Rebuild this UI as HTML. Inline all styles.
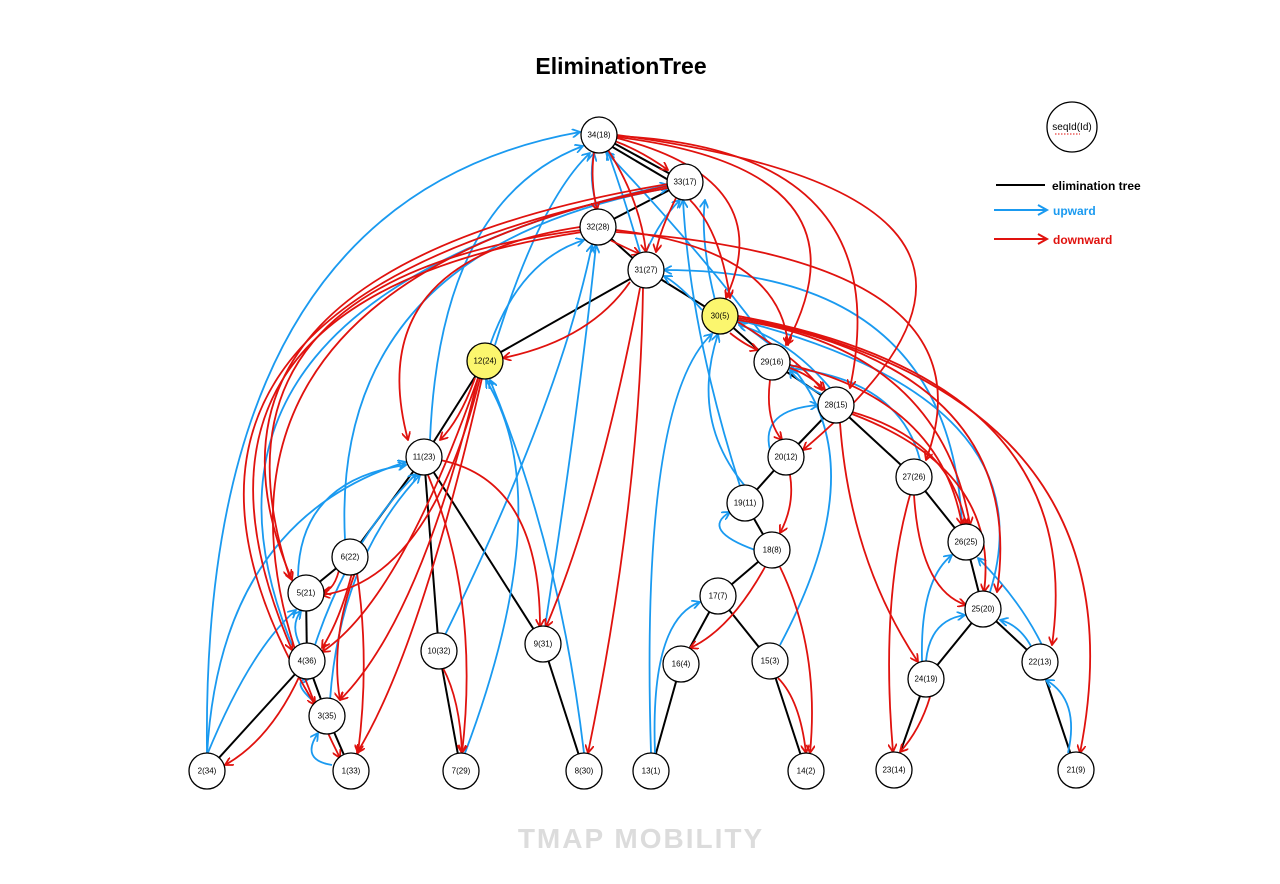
<!DOCTYPE html>
<html><head><meta charset="utf-8"><style>
html,body{margin:0;padding:0;background:#fff;width:1280px;height:884px;overflow:hidden}
svg{display:block}
text{font-family:"Liberation Sans",Arial,sans-serif}
.n circle{fill:#fff;stroke:#000;stroke-width:1.3}
.n text{font-size:8px;text-anchor:middle;dominant-baseline:central}
.t line{stroke:#000;stroke-width:2}
.b path{stroke:#1a9af0;stroke-width:1.8;fill:none;marker-end:url(#ab)}
.r path{stroke:#e0120e;stroke-width:1.8;fill:none;marker-end:url(#ar)}
</style></head><body>
<svg width="1280" height="884" viewBox="0 0 1280 884">
<defs>
<marker id="ab" viewBox="0 0 10 10" refX="9" refY="5" markerWidth="9" markerHeight="9" orient="auto" markerUnits="userSpaceOnUse"><path d="M0,0 L9,5 L0,10" fill="none" stroke="#1a9af0" stroke-width="2"/></marker>
<marker id="ar" viewBox="0 0 10 10" refX="9" refY="5" markerWidth="9" markerHeight="9" orient="auto" markerUnits="userSpaceOnUse"><path d="M0,0 L9,5 L0,10" fill="none" stroke="#e0120e" stroke-width="2"/></marker>
</defs>
<text x="621" y="74" font-size="23" font-weight="bold" text-anchor="middle">EliminationTree</text>

<g class="t">
<line x1="599" y1="135" x2="685" y2="182"/><line x1="604" y1="142" x2="682" y2="188"/>
<line x1="685" y1="182" x2="598" y2="227"/><line x1="598" y1="227" x2="646" y2="270"/>
<line x1="646" y1="270" x2="720" y2="316"/><line x1="646" y1="270" x2="485" y2="361"/>
<line x1="720" y1="316" x2="772" y2="362"/><line x1="772" y1="362" x2="836" y2="405"/>
<line x1="836" y1="405" x2="786" y2="457"/><line x1="836" y1="405" x2="914" y2="477"/>
<line x1="786" y1="457" x2="745" y2="503"/><line x1="745" y1="503" x2="772" y2="550"/>
<line x1="772" y1="550" x2="718" y2="596"/><line x1="718" y1="596" x2="681" y2="664"/>
<line x1="718" y1="596" x2="770" y2="661"/><line x1="681" y1="664" x2="651" y2="771"/>
<line x1="770" y1="661" x2="806" y2="771"/><line x1="914" y1="477" x2="966" y2="542"/>
<line x1="966" y1="542" x2="983" y2="609"/><line x1="983" y1="609" x2="926" y2="679"/>
<line x1="983" y1="609" x2="1040" y2="662"/><line x1="926" y1="679" x2="894" y2="770"/>
<line x1="1040" y1="662" x2="1076" y2="770"/><line x1="485" y1="361" x2="424" y2="457"/>
<line x1="424" y1="457" x2="350" y2="557"/><line x1="424" y1="457" x2="439" y2="651"/>
<line x1="424" y1="457" x2="543" y2="644"/><line x1="350" y1="557" x2="306" y2="593"/>
<line x1="306" y1="593" x2="307" y2="661"/><line x1="307" y1="661" x2="327" y2="716"/>
<line x1="307" y1="661" x2="207" y2="771"/><line x1="327" y1="716" x2="351" y2="771"/>
<line x1="439" y1="651" x2="461" y2="771"/><line x1="543" y1="644" x2="584" y2="771"/>
</g>

<g class="b">
<path d="M207,753 Q200,200 580,132"/>
<path d="M292,645 Q150,300 668,185"/>
<path d="M345,540 Q330,250 668,188"/>
<path d="M430,440 Q440,200 583,146"/>
<path d="M490,345 Q520,260 584,240"/>
<path d="M495,345 Q540,200 590,153"/>
<path d="M445,635 Q560,400 592,245"/>
<path d="M465,753 Q560,500 486,380"/>
<path d="M584,753 Q560,550 490,380"/>
<path d="M545,627 Q580,400 596,245"/>
<path d="M651,753 Q640,400 712,334"/>
<path d="M655,753 Q650,620 700,602"/>
<path d="M745,486 Q690,420 718,334"/>
<path d="M740,486 Q690,330 683,200"/>
<path d="M755,550 Q700,530 730,512"/>
<path d="M780,645 Q900,420 738,322"/>
<path d="M770,450 Q760,410 818,405"/>
<path d="M826,396 Q800,385 790,370"/>
<path d="M962,525 Q950,270 664,270"/>
<path d="M990,592 Q1050,400 738,320"/>
<path d="M926,661 Q930,620 965,615"/>
<path d="M922,661 Q920,580 952,555"/>
<path d="M1032,648 Q1020,625 1000,620"/>
<path d="M1042,645 Q1020,600 978,558"/>
<path d="M1068,753 Q1080,700 1046,680"/>
<path d="M920,460 Q900,380 790,368"/>
<path d="M770,345 Q700,250 606,152"/>
<path d="M715,300 Q700,240 705,200"/>
<path d="M702,310 Q680,285 664,276"/>
<path d="M830,388 Q790,340 739,325"/>
<path d="M298,576 Q300,480 406,465"/>
<path d="M315,645 Q350,540 416,474"/>
<path d="M330,700 Q340,560 420,475"/>
<path d="M207,755 Q220,520 406,462"/>
<path d="M207,755 Q250,650 296,610"/>
<path d="M300,645 Q290,625 301,611"/>
<path d="M332,765 Q300,760 318,733"/>
<path d="M312,700 Q290,680 310,678"/>
<path d="M646,252 Q660,220 680,200"/>
<path d="M598,210 Q588,180 594,153"/>
<path d="M640,252 Q625,200 608,152"/>
</g>

<g class="r">
<path d="M582,230 Q190,280 290,578"/>
<path d="M582,232 Q140,300 292,650"/>
<path d="M668,188 Q70,300 315,705"/>
<path d="M668,186 Q110,300 340,758"/>
<path d="M668,184 Q160,270 292,580"/>
<path d="M580,227 Q360,260 408,440"/>
<path d="M480,378 Q430,580 322,595"/>
<path d="M478,378 Q400,600 322,652"/>
<path d="M478,378 Q420,620 340,700"/>
<path d="M482,378 Q420,650 357,753"/>
<path d="M475,378 Q460,420 440,440"/>
<path d="M355,573 Q330,640 340,700"/>
<path d="M357,573 Q370,660 358,753"/>
<path d="M340,566 Q335,590 323,592"/>
<path d="M352,573 Q340,620 322,648"/>
<path d="M300,675 Q270,740 225,765"/>
<path d="M440,460 Q540,480 540,627"/>
<path d="M428,475 Q480,600 462,753"/>
<path d="M443,668 Q460,700 462,753"/>
<path d="M640,288 Q600,500 546,627"/>
<path d="M643,288 Q640,500 588,753"/>
<path d="M630,282 Q590,340 503,358"/>
<path d="M608,150 Q640,200 646,252"/>
<path d="M612,140 Q640,150 668,170"/>
<path d="M594,152 Q590,180 597,210"/>
<path d="M617,138 Q780,180 726,298"/>
<path d="M617,137 Q880,170 786,345"/>
<path d="M617,136 Q900,150 850,388"/>
<path d="M617,135 Q1100,200 803,450"/>
<path d="M676,198 Q660,230 656,252"/>
<path d="M690,200 Q720,230 730,298"/>
<path d="M616,230 Q780,250 788,345"/>
<path d="M616,232 Q1000,260 926,460"/>
<path d="M610,240 Q630,250 640,254"/>
<path d="M730,333 Q745,345 758,350"/>
<path d="M738,322 Q800,360 822,390"/>
<path d="M738,320 Q940,350 970,525"/>
<path d="M738,318 Q1030,370 997,592"/>
<path d="M738,316 Q1090,380 1052,645"/>
<path d="M738,316 Q1150,400 1080,753"/>
<path d="M770,380 Q765,420 782,440"/>
<path d="M790,368 Q810,375 825,390"/>
<path d="M790,365 Q940,400 962,525"/>
<path d="M852,412 Q950,440 966,525"/>
<path d="M852,414 Q1000,470 984,592"/>
<path d="M840,423 Q850,560 918,662"/>
<path d="M790,475 Q795,505 780,533"/>
<path d="M765,567 Q730,630 690,648"/>
<path d="M780,567 Q820,650 810,753"/>
<path d="M778,678 Q800,700 806,753"/>
<path d="M910,495 Q880,600 893,752"/>
<path d="M914,495 Q920,590 966,605"/>
<path d="M930,697 Q920,730 900,752"/>
</g>

<g class="n">
<circle cx="599" cy="135" r="18"/><text x="599" y="135">34(18)</text>
<circle cx="685" cy="182" r="18"/><text x="685" y="182">33(17)</text>
<circle cx="598" cy="227" r="18"/><text x="598" y="227">32(28)</text>
<circle cx="646" cy="270" r="18"/><text x="646" y="270">31(27)</text>
<circle cx="720" cy="316" r="18" style="fill:#fbf66e"/><text x="720" y="316">30(5)</text>
<circle cx="485" cy="361" r="18" style="fill:#fbf66e"/><text x="485" y="361">12(24)</text>
<circle cx="772" cy="362" r="18"/><text x="772" y="362">29(16)</text>
<circle cx="836" cy="405" r="18"/><text x="836" y="405">28(15)</text>
<circle cx="424" cy="457" r="18"/><text x="424" y="457">11(23)</text>
<circle cx="786" cy="457" r="18"/><text x="786" y="457">20(12)</text>
<circle cx="914" cy="477" r="18"/><text x="914" y="477">27(26)</text>
<circle cx="745" cy="503" r="18"/><text x="745" y="503">19(11)</text>
<circle cx="772" cy="550" r="18"/><text x="772" y="550">18(8)</text>
<circle cx="350" cy="557" r="18"/><text x="350" y="557">6(22)</text>
<circle cx="966" cy="542" r="18"/><text x="966" y="542">26(25)</text>
<circle cx="306" cy="593" r="18"/><text x="306" y="593">5(21)</text>
<circle cx="718" cy="596" r="18"/><text x="718" y="596">17(7)</text>
<circle cx="983" cy="609" r="18"/><text x="983" y="609">25(20)</text>
<circle cx="439" cy="651" r="18"/><text x="439" y="651">10(32)</text>
<circle cx="543" cy="644" r="18"/><text x="543" y="644">9(31)</text>
<circle cx="307" cy="661" r="18"/><text x="307" y="661">4(36)</text>
<circle cx="681" cy="664" r="18"/><text x="681" y="664">16(4)</text>
<circle cx="770" cy="661" r="18"/><text x="770" y="661">15(3)</text>
<circle cx="1040" cy="662" r="18"/><text x="1040" y="662">22(13)</text>
<circle cx="926" cy="679" r="18"/><text x="926" y="679">24(19)</text>
<circle cx="327" cy="716" r="18"/><text x="327" y="716">3(35)</text>
<circle cx="207" cy="771" r="18"/><text x="207" y="771">2(34)</text>
<circle cx="351" cy="771" r="18"/><text x="351" y="771">1(33)</text>
<circle cx="461" cy="771" r="18"/><text x="461" y="771">7(29)</text>
<circle cx="584" cy="771" r="18"/><text x="584" y="771">8(30)</text>
<circle cx="651" cy="771" r="18"/><text x="651" y="771">13(1)</text>
<circle cx="806" cy="771" r="18"/><text x="806" y="771">14(2)</text>
<circle cx="894" cy="770" r="18"/><text x="894" y="770">23(14)</text>
<circle cx="1076" cy="770" r="18"/><text x="1076" y="770">21(9)</text>
</g>

<circle cx="1072" cy="127" r="25" fill="#fff" stroke="#000" stroke-width="1.3"/>
<text x="1072" y="130" font-size="10" text-anchor="middle">seqId(Id)</text>
<path d="M1055,134 L1080,134" stroke="#e0120e" stroke-width="1" stroke-dasharray="1.5,1.5"/>
<line x1="996" y1="185" x2="1045" y2="185" stroke="#000" stroke-width="2"/>
<text x="1052" y="190" font-size="12" font-weight="bold">elimination tree</text>
<line x1="994" y1="210" x2="1046" y2="210" stroke="#1a9af0" stroke-width="2"/>
<path d="M1038,205 L1047,210 L1038,215" fill="none" stroke="#1a9af0" stroke-width="2"/>
<text x="1053" y="215" font-size="12" font-weight="bold" fill="#1a9af0">upward</text>
<line x1="994" y1="239" x2="1046" y2="239" stroke="#e0120e" stroke-width="2"/>
<path d="M1038,234 L1047,239 L1038,244" fill="none" stroke="#e0120e" stroke-width="2"/>
<text x="1053" y="244" font-size="12" font-weight="bold" fill="#e0120e">downward</text>

<text x="641" y="848" font-size="28" font-weight="bold" text-anchor="middle" fill="#dcdcdc" letter-spacing="2">TMAP MOBILITY</text>
</svg>
</body></html>
